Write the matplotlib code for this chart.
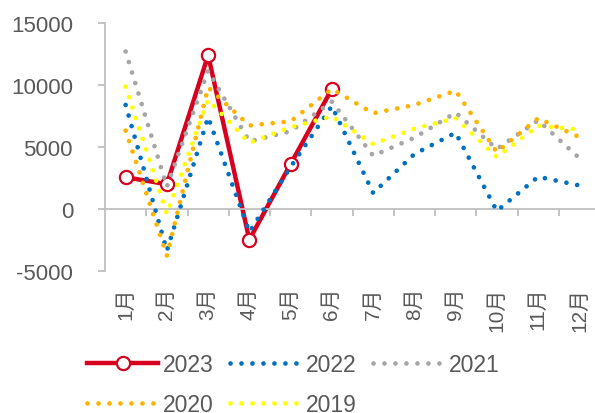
import matplotlib
matplotlib.use("Agg")
import matplotlib.pyplot as plt
from matplotlib.ticker import FixedLocator, NullFormatter

plt.rcParams['font.family'] = ['Liberation Sans', 'Noto Sans CJK SC', 'DejaVu Sans']
plt.rcParams['axes.unicode_minus'] = False
plt.rcParams['lines.scale_dashes'] = False

months = ['1月', '2月', '3月', '4月', '5月', '6月', '7月', '8月', '9月', '10月', '11月', '12月']
y2023 = [2560, 2000, 12400, -2470, 3630, 9680]
y2022 = [8390, -3360, 7400, -1850, 3390, 8300, 1290, 4430, 6150, -160, 2600, 1900]
y2021 = [12700, 1800, 11150, 5450, 6270, 8650, 4300, 5750, 7770, 4840, 7150, 4100]
y2020 = [6320, -3760, 9810, 6730, 7070, 9680, 7720, 8390, 9540, 4590, 7320, 5800]
y2019 = [9870, -400, 8800, 5340, 6590, 7470, 5240, 6480, 7340, 4190, 6720, 6400]
yticks = [-5000, 0, 5000, 10000, 15000]

W, H = 595, 414
fig = plt.figure(figsize=(W / 100, H / 100), dpi=100)
ax = fig.add_axes([105 / W, (H - 272) / H, 495 / W, 248 / H])

x = list(range(len(months)))
dot = dict(linestyle=(0, (0.01, 7.9)), dash_capstyle='round', lw=3.4)

l23, = ax.plot(x[:len(y2023)], y2023, color='#D7001E', lw=3.2, marker='o', ms=9.5,
               mfc='white', mec='#D7001E', mew=1.6, label='2023', zorder=2)
l22, = ax.plot(x, y2022, color='#0070C0', label='2022', zorder=3, **dot)
l21, = ax.plot(x, y2021, color='#A6A6A6', label='2021', zorder=4, **dot)
l20, = ax.plot(x, y2020, color='#FFB300', label='2020', zorder=5, **dot)
l19, = ax.plot(x, y2019, color='#FFFF00', label='2019', zorder=6, **dot)

ax.set_xlim(-0.5, len(months) - 0.5)
ax.set_ylim(yticks[0], yticks[-1])
ax.set_yticks(yticks)
ax.set_yticklabels([str(v) for v in yticks])

for s in ['top', 'right']:
    ax.spines[s].set_visible(False)
ax.spines['left'].set_color('#BFBFBF')
ax.spines['left'].set_linewidth(1.3)
ax.spines['bottom'].set_position(('data', 0))
ax.spines['bottom'].set_color('#BFBFBF')
ax.spines['bottom'].set_linewidth(1.3)

ax.tick_params(axis='y', direction='out', length=5, width=1.3, color='#BFBFBF',
               labelsize=16, labelcolor='#595959', pad=18)
ax.set_xticks(x)
ax.set_xticklabels(months, rotation=90)
ax.tick_params(axis='x', which='major', length=0, labelsize=15,
               labelcolor='#595959', pad=56)
ax.xaxis.set_minor_locator(FixedLocator([i + 0.5 for i in x[:-1]]))
ax.xaxis.set_minor_formatter(NullFormatter())
ax.tick_params(axis='x', which='minor', direction='out', length=5, width=1.3,
               color='#BFBFBF')

# column-major ordering so rows read 2023 2022 2021 / 2020 2019
handles = [l23, l20, l22, l19, l21]
leg = fig.legend(handles=handles, labels=[h.get_label() for h in handles],
                 loc='upper left', bbox_to_anchor=(87 / W, (H - 354) / H),
                 ncol=3, frameon=False, fontsize=16.5, handlelength=3.1,
                 handletextpad=0.22, columnspacing=0.7, labelspacing=0.75,
                 borderpad=0, borderaxespad=0)
for t in leg.get_texts():
    t.set_color('#595959')

fig.savefig('out.png', dpi=100)
